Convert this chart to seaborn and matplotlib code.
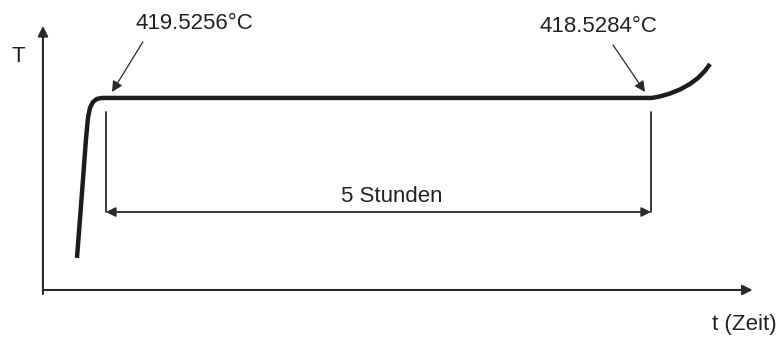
import os
os.environ.setdefault("MPLBACKEND", "Agg")

import matplotlib.pyplot as plt
import pandas as pd
import seaborn as sns

# schematic cooling/melting curve: time in hours, temperature in relative units
time_h = [0.312, 0.339, 0.367, 0.394, 0.413, 0.431, 0.459, 0.495, 0.541,
          5.587, 5.661, 5.752, 5.844, 5.936, 6.009, 6.073, 6.119]
temp = [16.7, 36.5, 57.3, 78.1, 89.6, 94.8, 97.9, 99.5, 100.0,
        100.0, 100.8, 102.3, 104.4, 107.3, 110.4, 114.1, 117.7]

plateau_start = 0.578
plateau_hours = 5
plateau_labels = ["419.5256°C", "418.5284°C"]
duration_label = f"{plateau_hours} Stunden"
axis_labels = ["T", "t (Zeit)"]

sns.set_theme(style="white")
plt.rcParams["font.family"] = ["Liberation Sans", "DejaVu Sans"]

fig = plt.figure(figsize=(7.79, 3.38), dpi=100)
ax = fig.add_axes([0, 0, 1, 1])
ax.set_xlim(-0.394, 6.752)
ax.set_ylim(-25.0, 151.0)
ax.set_axis_off()

df = pd.DataFrame({"t": time_h, "T": temp})
sns.lineplot(data=df, x="t", y="T", ax=ax, sort=False, estimator=None,
             color="#1c1c1c", linewidth=3.2, solid_capstyle="butt")

ink = "#2a2a2a"
head = dict(arrowstyle="-|>", color=ink, lw=1.5, mutation_scale=15,
            shrinkA=0, shrinkB=0)

# coordinate axes with arrow heads
ax.annotate("", xy=(0, 137.5), xytext=(0, 0), arrowprops=head)
ax.annotate("", xy=(6.51, 0), xytext=(0, 0), arrowprops=head)
ax.plot([0, 0], [0, -2], color=ink, lw=1.5)
ax.text(-0.229, 121.4, axis_labels[0], fontsize=16, ha="center", va="center",
        color="#222222")
ax.text(6.73, -18.2, axis_labels[1], fontsize=16, ha="right", va="center",
        color="#222222")

# dimension lines for the plateau duration
plateau_end = plateau_start + plateau_hours
for xv in (plateau_start, plateau_end):
    ax.plot([xv, xv], [92.7, 40.6], color=ink, lw=1.3)
ax.annotate("", xy=(plateau_start, 40.6), xytext=(plateau_end, 40.6),
            arrowprops=dict(arrowstyle="<|-|>", color=ink, lw=1.3,
                            mutation_scale=14, shrinkA=0, shrinkB=0))
ax.text(3.20, 48.5, duration_label,
        fontsize=16, ha="center", va="center", color="#222222")

# temperature annotations
thin = dict(arrowstyle="-|>", color=ink, lw=0.9, mutation_scale=16,
            shrinkA=0, shrinkB=0)
ax.text(1.385, 139.0, plateau_labels[0], fontsize=16, ha="center",
        va="center", color="#222222")
ax.annotate("", xy=(0.633, 103.1), xytext=(0.917, 129.2), arrowprops=thin)
ax.text(5.10, 137.0, plateau_labels[1], fontsize=16, ha="center",
        va="center", color="#222222")
ax.annotate("", xy=(5.523, 103.1), xytext=(5.229, 127.6), arrowprops=thin)

fig.savefig("out.png", dpi=100, facecolor="white")
plt.close(fig)
